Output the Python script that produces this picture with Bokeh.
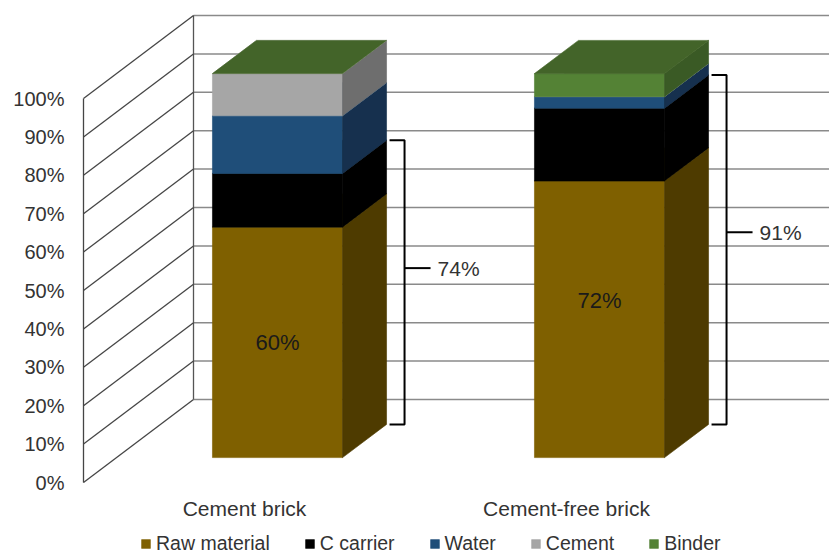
from bokeh.plotting import figure
from bokeh.models import (Range1d, FixedTicker, CustomJSTickFormatter, ColumnDataSource,
                          Legend, LegendItem)
from bokeh.core.properties import value
from bokeh.embed import file_html
from bokeh.resources import INLINE

# ---- data (percent of brick mass) ----
categories = ["Cement brick", "Cement-free brick"]
series = ["Raw material", "C carrier", "Water", "Cement", "Binder"]
raw_material = [60, 72]
c_carrier = [14, 19]
water = [15, 3]
cement = [11, 0]
binder = [0, 6]
raw_labels = ["60%", "72%"]
bracket_labels = ["74%", "91%"]          # raw material + C carrier
y_ticks = [0, 10, 20, 30, 40, 50, 60, 70, 80, 90, 100]

values = [raw_material, c_carrier, water, cement, binder]
front_colors = ["#7F6000", "#000000", "#1F4E79", "#A6A6A6", "#548235"]
side_colors = ["#4E3B00", "#000000", "#16304E", "#6E6E6E", "#3A5A25"]
top_colors = ["#9A7A10", "#1A1A1A", "#2A5F90", "#BDBDBD", "#436429"]

# ---- 3-D projection settings ----
W, H = 829, 556
PX_X = 322.0          # pixels per category
PX_Y = 3.84           # pixels per percent
ORIGIN_X, ORIGIN_Y = 83, 482
FRAME_LEFT = 73
DX = 110 / PX_X       # full wall depth, horizontal shift (data units)
DY = 83 / PX_Y        # full wall depth, vertical shift (percent units)
BAR_W = 0.404
D0, D1 = 0.30, 0.70   # front and back depth of the bars
FONT = "Liberation Sans"
TEXT_COLOR = "#333333"


def px_x(n):
    return n / PX_X


def px_y(n):
    return n / PX_Y


def proj(x, v, d):
    return x + d * DX, v + d * DY


x_start = -px_x(ORIGIN_X - FRAME_LEFT)
x_end = px_x(W - ORIGIN_X)
p = figure(width=W, height=H, output_backend="svg", toolbar_location=None,
           x_range=Range1d(x_start, x_end),
           y_range=Range1d(-px_y(H - ORIGIN_Y), px_y(ORIGIN_Y)),
           x_axis_location=None, min_border_left=FRAME_LEFT, min_border_right=0,
           min_border_top=0, min_border_bottom=0)
p.outline_line_color = None
p.grid.visible = False
p.background_fill_color = "white"

# y axis on the front edge of the side wall
ax = p.yaxis[0]
ax.ticker = FixedTicker(ticks=y_ticks)
ax.formatter = CustomJSTickFormatter(code="return tick + '%'")
ax.axis_line_color = None
ax.major_tick_line_color = None
ax.minor_tick_line_color = None
ax.major_tick_out = 0
ax.major_tick_in = 0
ax.major_label_standoff = 9
ax.major_label_text_font = FONT
ax.major_label_text_font_size = "20px"
ax.major_label_text_color = TEXT_COLOR

# ---- walls ----
top_v = y_ticks[-1]
back_x = [[DX, x_end + DX] for _ in y_ticks]
back_y = [[v + DY, v + DY] for v in y_ticks]
p.multi_line(back_x, back_y, line_color="#8A8A8A", line_width=1.5)
p.line([DX, DX], [DY, top_v + DY], line_color="#555555", line_width=1.3)
side_x = [[0, DX] for _ in y_ticks]
side_y = [[v, v + DY] for v in y_ticks]
p.multi_line(side_x, side_y, line_color="#454545", line_width=1.3)
p.line([0, 0], [0, top_v], line_color="#454545", line_width=1.3)

# ---- stacked 3-D bars ----
renderers = []
bottoms = [0.0 for _ in categories]
for s, vals in enumerate(values):
    fronts, sides, tops = [], [], []
    for i, v in enumerate(vals):
        b = bottoms[i]
        t = b + v
        xl = i + 0.5 - BAR_W / 2
        xr = i + 0.5 + BAR_W / 2
        if v > 0:
            fronts.append([proj(xl, b, D0), proj(xr, b, D0), proj(xr, t, D0), proj(xl, t, D0)])
            sides.append([proj(xr, b, D0), proj(xr, b, D1), proj(xr, t, D1), proj(xr, t, D0)])
        tops.append([proj(xl, t, D0), proj(xr, t, D0), proj(xr, t, D1), proj(xl, t, D1)])
        bottoms[i] = t
    polys = fronts + sides + tops
    cols = ([front_colors[s]] * len(fronts) + [side_colors[s]] * len(sides)
            + [top_colors[s]] * len(tops))
    src = ColumnDataSource(dict(
        xs=[[pt[0] for pt in poly] for poly in polys],
        ys=[[pt[1] for pt in poly] for poly in polys],
        color=cols))
    r = p.patches("xs", "ys", source=src, fill_color="color", line_color="color",
                  line_width=0.6)
    renderers.append(r)

# value label on the raw material block
label_frac = [0.5, 0.57]
lx, ly = [], []
for i, v in enumerate(raw_material):
    x, y = proj(i + 0.5, v * label_frac[i], D0)
    lx.append(x)
    ly.append(y)
p.text(lx, ly, text=raw_labels, text_align="center", text_baseline="middle",
       text_font=value(FONT), text_font_size="22px", text_color="#1A1A1A")

# ---- brackets spanning raw material + C carrier ----
bx, by, tx, ty = [], [], [], []
for i in range(len(categories)):
    total = raw_material[i] + c_carrier[i]
    xr = i + 0.5 + BAR_W / 2
    x_back, _ = proj(xr, 0, D1)
    top = total + D1 * DY
    bot = D1 * DY
    mid = bot + 0.55 * total
    xs0 = x_back + px_x(3)
    xv = x_back + px_x(18)
    bx.append([xs0, xv, xv, xs0])
    by.append([top, top, bot, bot])
    bx.append([xv, xv + px_x(26)])
    by.append([mid, mid])
    tx.append(xv + px_x(33))
    ty.append(mid)
p.multi_line(bx, by, line_color="black", line_width=2)
p.text(tx, ty, text=bracket_labels, text_align="left", text_baseline="middle",
       text_font=value(FONT), text_font_size="21px", text_color=TEXT_COLOR)

# ---- category labels on the front plane ----
cx = [i + 0.5 for i in range(len(categories))]
cy = [-px_y(508 - ORIGIN_Y)] * len(categories)
p.text(cx, cy, text=categories, text_align="center", text_baseline="middle",
       text_font=value(FONT), text_font_size="21px", text_color=TEXT_COLOR)

# ---- legend ----
legend = Legend(items=[LegendItem(label=s, renderers=[r], index=0)
                       for s, r in zip(series, renderers)],
                orientation="horizontal", location=(140 - FRAME_LEFT, 1),
                glyph_width=11, glyph_height=11, label_standoff=5, spacing=34,
                padding=0, margin=0, border_line_color=None,
                background_fill_alpha=0, label_text_font=FONT,
                label_text_font_size="19.5px", label_text_color=TEXT_COLOR,
                label_height=20)
p.add_layout(legend)

open("out.html", "w").write(file_html(p, INLINE))
